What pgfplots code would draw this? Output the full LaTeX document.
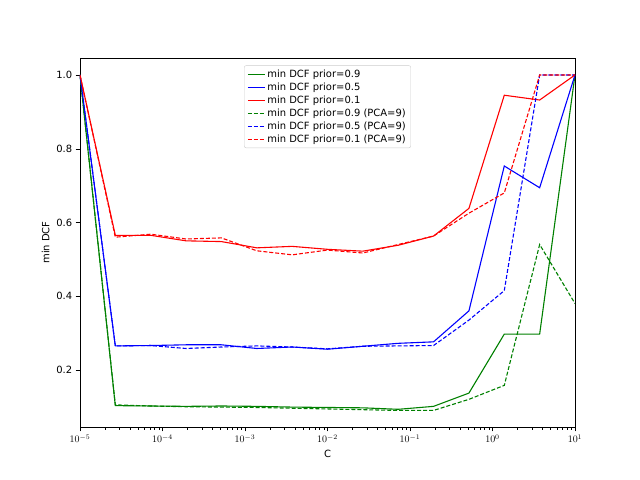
\documentclass[border=0pt]{standalone}
\usepackage{fontspec}
\setmainfont{DejaVu Sans}
\usepackage{pgfplots}
\pgfplotsset{compat=1.18}
\begin{document}
\begin{tikzpicture}
\useasboundingbox (-80bp,-53bp) rectangle (560bp,427bp);
\begin{axis}[
  at={(0,0)}, anchor=south west, scale only axis,
  width=495bp, height=369bp,
  xmode=log, xmin=1e-5, xmax=10, ymin=0.045, ymax=1.046,
  ytick={0.2,0.4,0.6,0.8,1.0},
  yticklabel style={/pgf/number format/fixed,/pgf/number format/precision=1,/pgf/number format/fixed zerofill,/pgf/number format/assume math mode=true},
  tick align=outside, tick style={black}, xtick pos=left, ytick pos=left,
  xtick={1e-5,1e-4,1e-3,1e-2,1e-1,1,10},
  minor xtick={2e-5,3e-5,4e-5,5e-5,6e-5,7e-5,8e-5,9e-5,2e-4,3e-4,4e-4,5e-4,6e-4,7e-4,8e-4,9e-4,2e-3,3e-3,4e-3,5e-3,6e-3,7e-3,8e-3,9e-3,2e-2,3e-2,4e-2,5e-2,6e-2,7e-2,8e-2,9e-2,0.2,0.3,0.4,0.5,0.6,0.7,0.8,0.9,2,3,4,5,6,7,8,9},
  ticklabel style={font=\fontsize{10}{12}\selectfont},
  xlabel={C}, ylabel={min DCF}, label style={font=\fontsize{10}{12}\selectfont},
  legend style={at={(0.5,0.98)}, anchor=north, font=\fontsize{10}{12}\selectfont, draw=black!20, rounded corners=2pt},
  legend cell align=left,
]
\addplot[green!50!black, line width=1.1pt] coordinates {(1e-5,1.0)(2.68e-5,0.103)(7.2e-5,0.102)(1.93e-4,0.101)(5.18e-4,0.102)(1.39e-3,0.101)(3.73e-3,0.099)(1e-2,0.098)(2.68e-2,0.097)(7.2e-2,0.093)(0.193,0.101)(0.518,0.137)(1.39,0.297)(3.73,0.297)(10,1.0)};
\addlegendentry{min DCF prior=0.9}
\addplot[blue, line width=1.1pt] coordinates {(1e-5,1.0)(2.68e-5,0.265)(7.2e-5,0.266)(1.93e-4,0.268)(5.18e-4,0.268)(1.39e-3,0.258)(3.73e-3,0.262)(1e-2,0.256)(2.68e-2,0.264)(7.2e-2,0.272)(0.193,0.276)(0.518,0.360)(1.39,0.753)(3.73,0.694)(10,1.0)};
\addlegendentry{min DCF prior=0.5}
\addplot[red, line width=1.1pt] coordinates {(1e-5,1.0)(2.68e-5,0.565)(7.2e-5,0.565)(1.93e-4,0.550)(5.18e-4,0.548)(1.39e-3,0.531)(3.73e-3,0.535)(1e-2,0.527)(2.68e-2,0.522)(7.2e-2,0.538)(0.193,0.563)(0.518,0.638)(1.39,0.945)(3.73,0.932)(10,1.0)};
\addlegendentry{min DCF prior=0.1}
\addplot[green!50!black, line width=1.1pt, dash pattern=on 4pt off 2pt] coordinates {(1e-5,1.0)(2.68e-5,0.105)(7.2e-5,0.102)(1.93e-4,0.100)(5.18e-4,0.099)(1.39e-3,0.098)(3.73e-3,0.096)(1e-2,0.094)(2.68e-2,0.092)(7.2e-2,0.090)(0.193,0.090)(0.518,0.120)(1.39,0.158)(3.73,0.540)(10,0.380)};
\addlegendentry{min DCF prior=0.9 (PCA=9)}
\addplot[blue, line width=1.1pt, dash pattern=on 4pt off 2pt] coordinates {(1e-5,1.0)(2.68e-5,0.265)(7.2e-5,0.266)(1.93e-4,0.258)(5.18e-4,0.262)(1.39e-3,0.265)(3.73e-3,0.262)(1e-2,0.257)(2.68e-2,0.264)(7.2e-2,0.265)(0.193,0.266)(0.518,0.335)(1.39,0.415)(3.73,1.0)(10,1.0)};
\addlegendentry{min DCF prior=0.5 (PCA=9)}
\addplot[red, line width=1.1pt, dash pattern=on 4pt off 2pt] coordinates {(1e-5,1.0)(2.68e-5,0.560)(7.2e-5,0.568)(1.93e-4,0.555)(5.18e-4,0.558)(1.39e-3,0.523)(3.73e-3,0.512)(1e-2,0.525)(2.68e-2,0.517)(7.2e-2,0.540)(0.193,0.563)(0.518,0.625)(1.39,0.680)(3.73,1.0)(10,1.0)};
\addlegendentry{min DCF prior=0.1 (PCA=9)}
\end{axis}
\end{tikzpicture}
\end{document}
